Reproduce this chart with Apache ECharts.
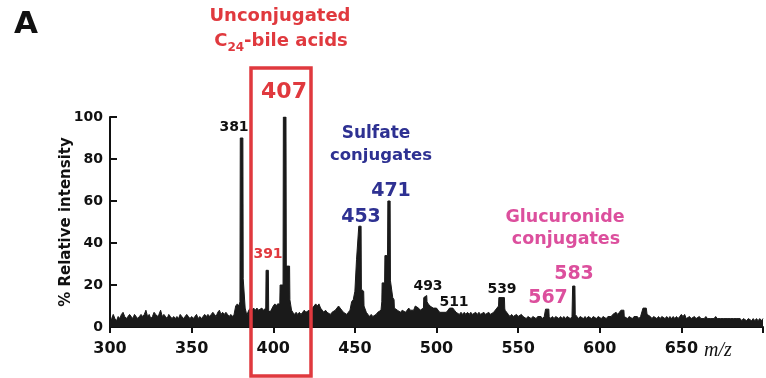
<!DOCTYPE html>
<html>
<head>
<meta charset="utf-8">
<script src="https://cdn.jsdelivr.net/npm/echarts@6/dist/echarts.min.js"></script>
<style>
html,body{margin:0;padding:0;background:#fff;}
#chart{width:766px;height:378px;}
</style>
</head>
<body>
<div id="chart"></div>
<script>
// m/z tick labels
const xTicks = [300, 350, 400, 450, 500, 550, 600, 650, 700];
const yTicks = [0, 20, 40, 60, 80, 100];

// Spectrum: [m/z, % relative intensity]
const spectrum = [
[300,3],[301,4],[302,6],[303,4],[304,3],[305,5],[306,4],[307,6],[308,7],[309,5],
[310,4],[311,5],[312,6],[313,5],[314,4],[315,6],[316,5],[317,4],[318,5],[319,6],
[320,5],[321,6],[322,8],[323,5],[324,6],[325,4],[326,5],[327,7],[328,6],[329,5],
[330,6],[331,8],[332,5],[333,6],[334,5],[335,4],[336,6],[337,5],[338,4],[339,5],
[340,4],[341,5],[342,4],[343,6],[344,5],[345,4],[346,5],[347,6],[348,5],[349,4],
[350,5],[351,4],[352,5],[353,6],[354,4],[355,5],[356,4],[357,5],[358,6],[359,5],
[360,6],[361,5],[362,6],[363,7],[364,6],[365,5],[366,7],[367,8],[368,6],[369,7],
[370,6],[371,7],[372,6],[373,5],[374,6],[375,5],[376,6],[377,10],[378,11],[379,10],
[379.6,12],[379.8,90],[381.4,90],[381.6,23],[382.6,23],[382.8,9],[383.4,7],
[384,6],[385,8],[386,9],[387,8],[388,9],[389,8],[390,9],[391,8],[392,8],[393,9],[394,8],[395,8],
[395.4,9],[395.6,27],[397,27],[397.2,8],[398,7],[399,7],
[400,10],[401,11],[402,10],[402.6,11],[404,11],[404.2,20],[406,20],[406.2,100],[407.8,100],[408,29],[410,29],[410.2,13],[411,13],[411.2,8],
[412,7],[413,6],[414,7],[415,6],[416,7],[417,6],[418,7],[419,8],[420,7],[421,7],[422,8],[423,7],[424,9],[425,10],[426,11],[427,10],[428,11],[429,9],
[430,8],[431,7],[432,8],[433,7],[434,7],[435,6],[436,7],[437,7],[438,8],[439,9],[440,10],[441,9],[442,8],[443,7],[444,7],[445,6],[446,7],[447,8],
[448,12],[449,13],[450,17],[450.8,17],[451,32],[452.2,32],[452.4,48],[453.8,48],[454,18],[455.4,17],[455.6,10],[456.5,10],
[457,7],[458,6],[459,5],[460,6],[461,5],[462,5],[463,6],[464,7],[465,7],[466,8],[466.5,12],[466.7,21],[468.2,21],[468.4,34],[470,34],[470.2,60],[471.6,60],[471.8,22],[473,22],[473.2,14],[474,13],[474.2,9],
[475,9],[476,8],[477,8],[478,7],[479,8],[480,8],[481,7],[482,8],[483,9],[484,8],[485,8],[486,8],[487,10],[488,10],[489,9],[490,8],[491,8],[492,9],
[492.2,14],[494,15],[494.2,12],[495,11],[496,10],[497,10],[498,9],[499,9],[500,9],[501,8],[502,7],[503,7],[504,7],[505,7],[506,7],[507,8],[508,9],[509,9],[510,9],
[511,8],[512,7],[513,7],[514,6],[515,7],[516,6],[517,7],[518,6],[519,7],[520,6],[521,7],[522,6],[523,6],[524,7],[525,6],[526,7],[527,6],[528,6],[529,7],
[530,6],[531,6],[532,7],[533,6],[534,6],[535,7],[536,7],[537,9],[538,10],[538.2,14],[541.6,14],[541.8,9],[542,8],[543,7],[544,6],[545,5],[546,6],[547,5],[548,5],[549,6],
[550,5],[551,5],[552,6],[553,5],[554,5],[555,4],[556,5],[557,5],[558,4],[559,5],[560,5],[561,4],[562,5],[563,5],[564,5],[565,4],[566,5],[566.6,5],[566.8,8.5],[568.8,8.5],[569,5],
[570,4],[571,5],[572,4],[573,5],[574,5],[575,4],[576,5],[577,4],[578,5],[579,4],[580,5],[581,5],[582,4],[583,5],[583.2,5],[583.4,19.5],[584.8,19.5],[585,6],[586,5],[587,4],[588,5],[589,5],
[590,4],[591,5],[592,4],[593,5],[594,5],[595,4],[596,5],[597,5],[598,4],[599,5],[600,5],[601,4],[602,5],[603,5],[604,4],[605,5],[606,5],[607,5],[608,6],[609,6],
[610,7],[611,6],[612,7],[613,8],[614,8],[614.8,8],[615,5],[616,5],[617,4],[618,5],[619,5],[620,4],[621,5],[622,5],[623,5],[624,4],[625,5],[626,5],[626.5,9],[628.5,9],[629,6],
[630,6],[631,5],[632,4],[633,5],[634,5],[635,4],[636,5],[637,4],[638,5],[639,5],[640,4],[641,5],[642,4],[643,5],[644,4],[645,5],[646,4],[647,5],[648,4],[649,5],
[650,6],[651,5],[652,6],[653,4],[654,4],[655,5],[656,4],[657,4],[658,5],[659,4],[660,4],[661,5],[662,4],[663,4],[664,4],[665,5],[666,4],[667,4],[668,4],[669,4],
[670,4],[671,5],[672,4],[673,4],[674,4],[675,4],[676,4],[677,4],[678,4],[679,4],[680,4],[681,4],[682,4],[683,4],[684,4],[685,4],[686,4],[687,3],[688,4],[689,4],
[690,3],[691,4],[692,4],[693,3],[694,4],[695,3],[696,4],[697,3],[698,4],[699,3],[700,4]
];

// Peak annotations
const blackPeakLabels = ['381', '493', '511', '539'];
const redPeakLabels = ['407', '391'];
const bluePeakLabels = ['453', '471'];
const pinkPeakLabels = ['567', '583'];

const RED = '#e0393e', BLUE = '#2e3192', PINK = '#dc4f9d', INK = '#111';
const FF = '"DejaVu Sans", Verdana, sans-serif';

function txt(text, x, y, color, size, extra) {
  return Object.assign({
    type: 'text', x: x, y: y, z: 100,
    style: { text: text, fill: color, font: 'bold ' + size + 'px ' + FF, align: 'center', verticalAlign: 'middle' }
  }, extra || {});
}

const chart = echarts.init(document.getElementById('chart'), null, {renderer: 'canvas'});
chart.setOption({
  animation: false,
  grid: { left: 110, right: 0, top: 117, bottom: 51, containLabel: false },
  xAxis: {
    type: 'value', min: xTicks[0], max: xTicks[xTicks.length - 1], interval: 50,
    axisLine: { show: true, lineStyle: { color: INK, width: 2 } },
    axisTick: { show: true, inside: false, length: 6, lineStyle: { color: INK, width: 2 } },
    axisLabel: { color: INK, fontSize: 16, fontWeight: 'bold', fontFamily: FF, margin: 14,
      formatter: v => (v === 700 ? '' : String(v)) },
    splitLine: { show: false }
  },
  yAxis: {
    type: 'value', min: yTicks[0], max: yTicks[yTicks.length - 1], interval: 20,
    name: '% Relative intensity', nameLocation: 'middle', nameGap: 36, nameMoveOverlap: false,
    nameTextStyle: { color: INK, fontSize: 15, fontWeight: 'bold', fontFamily: FF },
    axisLine: { show: true, lineStyle: { color: INK, width: 2 } },
    axisTick: { show: true, inside: true, length: 7, lineStyle: { color: INK, width: 2 } },
    axisLabel: { color: INK, fontSize: 14, fontWeight: 'bold', fontFamily: FF, margin: 7 },
    splitLine: { show: false }
  },
  series: [{
    type: 'line', data: spectrum, symbol: 'none', smooth: false,
    lineStyle: { color: '#1a1a1a', width: 1 },
    areaStyle: { color: '#1a1a1a', opacity: 1 },
    z: 2
  }],
  graphic: [
    txt('A', 26, 25, INK, 31),
    txt('Unconjugated', 280, 16, RED, 18),
    { type: 'text', x: 281, y: 41, z: 100, style: {
        text: '{a|C}{b|24}{a|-bile acids}', fill: RED, align: 'center', verticalAlign: 'middle',
        rich: {
          a: { fontSize: 18, fontWeight: 'bold', fontFamily: FF, fill: RED, lineHeight: 26, verticalAlign: 'middle' },
          b: { fontSize: 12, fontWeight: 'bold', fontFamily: FF, fill: RED, lineHeight: 26, verticalAlign: 'bottom' }
        } } },
    { type: 'rect', z: 90, shape: { x: 251, y: 68, width: 60, height: 308 },
      style: { fill: 'none', stroke: RED, lineWidth: 3.5 } },
    txt(redPeakLabels[0], 284, 92, RED, 22),
    txt(blackPeakLabels[0], 234, 127, INK, 14),
    txt(redPeakLabels[1], 268, 254, RED, 14),
    txt('Sulfate', 376, 134, BLUE, 17),
    txt('conjugates', 381, 156, BLUE, 16.5),
    txt(bluePeakLabels[0], 361, 217, BLUE, 19),
    txt(bluePeakLabels[1], 391, 191, BLUE, 19),
    txt(blackPeakLabels[1], 428, 286, INK, 14),
    txt(blackPeakLabels[2], 454, 302, INK, 14),
    txt(blackPeakLabels[3], 502, 289, INK, 14),
    txt('Glucuronide', 565, 217, PINK, 17.5),
    txt('conjugates', 566, 239, PINK, 17.5),
    txt(pinkPeakLabels[0], 548, 298, PINK, 19),
    txt(pinkPeakLabels[1], 574, 274, PINK, 19),
    { type: 'text', x: 718, y: 351, z: 100, style: { text: 'm/z', fill: INK,
        font: 'italic 20px "Liberation Serif", "Times New Roman", serif', align: 'center', verticalAlign: 'middle' } }
  ]
});
</script>
</body>
</html>
